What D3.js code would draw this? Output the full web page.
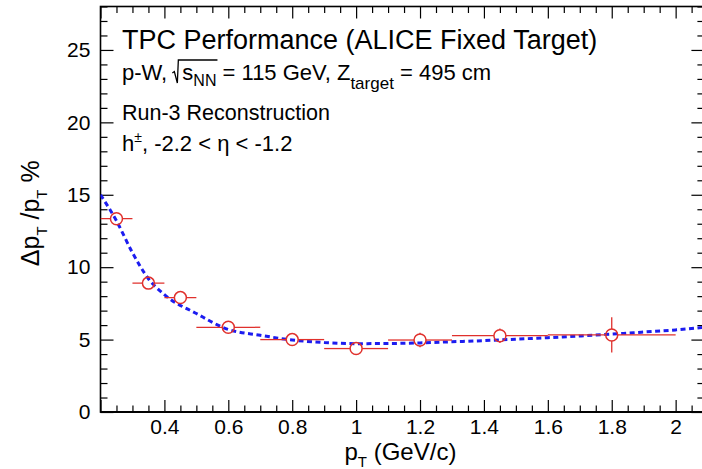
<!DOCTYPE html>
<html>
<head>
<meta charset="utf-8">
<script src="https://cdn.jsdelivr.net/npm/d3@7"></script>
<style>
  html, body { margin: 0; padding: 0; background: #fff; }
  svg { display: block; font-family: "Liberation Sans", Arial, Helvetica, sans-serif; }
</style>
</head>
<body>
<div id="chart"></div>
<script>
// resolucion en pT
const ptCenters  = [0.25, 0.35, 0.45, 0.6, 0.8, 1.0, 1.2, 1.45, 1.8];
const binLow     = [0.2, 0.3, 0.4, 0.5, 0.7, 0.9, 1.1, 1.3, 1.6];
const binHigh    = [0.3, 0.4, 0.5, 0.7, 0.9, 1.1, 1.3, 1.6, 2.0];
const resolution = [13.35, 8.9, 7.9, 5.85, 5.0, 4.38, 4.97, 5.27, 5.32];
const resErr     = [0.3, 0.2, 0.2, 0.15, 0.15, 0.15, 0.5, 0.5, 1.22];

// curva de ajuste (puntos leidos sobre la linea azul)
const fitPt  = [0.2, 0.25, 0.3, 0.35, 0.4, 0.5, 0.6, 0.7, 0.8, 0.9, 1.0, 1.1, 1.2, 1.3, 1.4, 1.5, 1.6, 1.7, 1.8, 1.9, 2.0, 2.09];
const fitRes = [15.0, 13.2, 11.0, 9.2, 8.1, 6.8, 5.7, 5.3, 4.97, 4.8, 4.72, 4.73, 4.77, 4.85, 4.93, 5.03, 5.13, 5.25, 5.38, 5.52, 5.67, 5.85];

const xMajor = [0.2, 0.4, 0.6, 0.8, 1.0, 1.2, 1.4, 1.6, 1.8, 2.0];
const xLabels = [0.4, 0.6, 0.8, 1.0, 1.2, 1.4, 1.6, 1.8, 2.0];
const yMajor = [0, 5, 10, 15, 20, 25];

const W = 702, H = 469;
const pLeft = 100.5, pRight = 704.4, pTop = 6.5, pBottom = 412;
const red = '#e0302c', blue = '#1c1cf0';

const svg = d3.select('#chart').append('svg').attr('width', W).attr('height', H);

const x = d3.scaleLinear().domain([0.2, 2.09]).range([pLeft, pRight]);
const y = d3.scaleLinear().domain([0, 28]).range([pBottom, pTop]);

const xMinor = d3.range(0.2, 2.09, 0.05).map(v => +v.toFixed(2)).filter(v => !xMajor.some(m => Math.abs(m - v) < 1e-6));
const yMinor = d3.range(0, 28.01, 1).filter(v => v % 5 !== 0);

svg.append('defs').append('clipPath').attr('id', 'plotclip')
  .append('rect').attr('x', pLeft).attr('y', pTop).attr('width', pRight - pLeft).attr('height', pBottom - pTop);

function tickAxis(axisFn, scale, values, size, tx, ty, labels){
  const ax = axisFn(scale).tickValues(values).tickSize(-size).tickPadding(7);
  if (!labels) ax.tickFormat('');
  else ax.tickFormat(d => labels.includes(d) ? d3.format('~g')(d) : '');
  const g = svg.append('g').attr('transform', `translate(${tx},${ty})`).call(ax);
  g.select('.domain').remove();
  g.selectAll('line').attr('stroke', '#000').attr('stroke-width', 1.2);
  g.selectAll('text').attr('font-size', 21).attr('fill', '#000').attr('font-family', 'Liberation Sans, Arial, sans-serif');
  return g;
}

// ejes abajo / arriba
tickAxis(d3.axisBottom, x, xMajor, 12, 0, pBottom, xLabels);
tickAxis(d3.axisBottom, x, xMinor, 6.5, 0, pBottom);
tickAxis(d3.axisTop, x, xMajor, 12, 0, pTop);
tickAxis(d3.axisTop, x, xMinor, 6.5, 0, pTop);
// ejes izquierda / derecha
tickAxis(d3.axisLeft, y, yMajor, 13, pLeft, 0, yMajor).selectAll('text').attr('dx', '-0.15em');
tickAxis(d3.axisLeft, y, yMinor, 7, pLeft, 0);
tickAxis(d3.axisRight, y, yMajor, 13, pRight, 0);
tickAxis(d3.axisRight, y, yMinor, 7, pRight, 0);

// marco
svg.append('rect').attr('x', pLeft).attr('y', pTop).attr('width', pRight - pLeft).attr('height', pBottom - pTop)
  .attr('fill', 'none').attr('stroke', '#000').attr('stroke-width', 1.6);
svg.append('line').attr('x1', pLeft).attr('x2', pRight).attr('y1', pBottom).attr('y2', pBottom)
  .attr('stroke', '#000').attr('stroke-width', 2);

const plot = svg.append('g').attr('clip-path', 'url(#plotclip)');

// curva de ajuste
const line = d3.line().x((d, i) => x(fitPt[i])).y(d => y(d)).curve(d3.curveMonotoneX);
plot.append('path').attr('d', line(fitRes)).attr('fill', 'none')
  .attr('stroke', blue).attr('stroke-width', 3).attr('stroke-dasharray', '5,3.5');

// puntos con barras de error
const r = 6;
const pts = ptCenters.map((p, i) => ({ p, lo: binLow[i], hi: binHigh[i], v: resolution[i], e: resErr[i] }));
const eg = plot.append('g').attr('stroke', red).attr('stroke-width', 1.3);
pts.forEach(d => {
  const cx = x(d.p), cy = y(d.v);
  eg.append('line').attr('x1', x(d.lo)).attr('x2', cx - r).attr('y1', cy).attr('y2', cy);
  eg.append('line').attr('x1', cx + r).attr('x2', x(d.hi)).attr('y1', cy).attr('y2', cy);
  const yTop = y(d.v + d.e), yBot = y(d.v - d.e);
  if (cy - yTop > r){
    eg.append('line').attr('x1', cx).attr('x2', cx).attr('y1', yTop).attr('y2', cy - r);
    eg.append('line').attr('x1', cx).attr('x2', cx).attr('y1', cy + r).attr('y2', yBot);
  }
});
plot.selectAll('circle.pt').data(pts).enter().append('circle').attr('class', 'pt')
  .attr('cx', d => x(d.p)).attr('cy', d => y(d.v)).attr('r', r)
  .attr('fill', 'none').attr('stroke', red).attr('stroke-width', 1.5);

// textos
const tx0 = 122;
svg.append('text').attr('x', tx0).attr('y', 49).attr('font-size', 27).text('TPC Performance (ALICE Fixed Target)');

const b2 = 80;
const t2 = svg.append('text').attr('x', tx0).attr('y', b2).attr('font-size', 22);
t2.append('tspan').text('p-W, ');
t2.append('tspan').attr('dx', 9).text('s');
t2.append('tspan').attr('font-size', 16).attr('dy', 6).text('NN');
t2.append('tspan').attr('dy', -6).text(' = 115 GeV, Z');
t2.append('tspan').attr('font-size', 17).attr('dy', 9).text('target');
t2.append('tspan').attr('dy', -9).text(' = 495 cm');
// raiz cuadrada
const n2 = t2.node();
const xs = n2.getStartPositionOfChar(5).x;
const xe = n2.getEndPositionOfChar(7).x;
svg.append('path').attr('fill', 'none').attr('stroke', '#000').attr('stroke-width', 1.3)
  .attr('d', `M${xs - 10},${b2 - 7} L${xs - 8},${b2 - 8.5} L${xs - 5},${b2 + 3} L${xs - 4},${b2 - 20} L${xe + 1},${b2 - 20}`);

svg.append('text').attr('x', tx0).attr('y', 120).attr('font-size', 21.5).text('Run-3 Reconstruction');

const t4 = svg.append('text').attr('x', tx0).attr('y', 151).attr('font-size', 22);
t4.append('tspan').text('h');
t4.append('tspan').attr('font-size', 14).attr('dy', -9).text('±');
t4.append('tspan').attr('dy', 9).text(', -2.2 < η < -1.2');

// titulos de ejes
const xt = svg.append('text').attr('x', (pLeft + pRight) / 2 - 2).attr('y', 460).attr('font-size', 24).attr('text-anchor', 'middle');
xt.append('tspan').text('p');
xt.append('tspan').attr('font-size', 15).attr('dy', 7).text('T');
xt.append('tspan').attr('dy', -7).text(' (GeV/c)');

const ytl = svg.append('text').attr('transform', `translate(39,${(pTop + pBottom) / 2 + 4}) rotate(-90)`)
  .attr('font-size', 25).attr('text-anchor', 'middle');
ytl.append('tspan').text('Δp');
ytl.append('tspan').attr('font-size', 15).attr('dy', 8).text('T');
ytl.append('tspan').attr('dy', -8).text(' /p');
ytl.append('tspan').attr('font-size', 15).attr('dy', 8).text('T');
ytl.append('tspan').attr('dy', -8).text('  %');
</script>
</body>
</html>
